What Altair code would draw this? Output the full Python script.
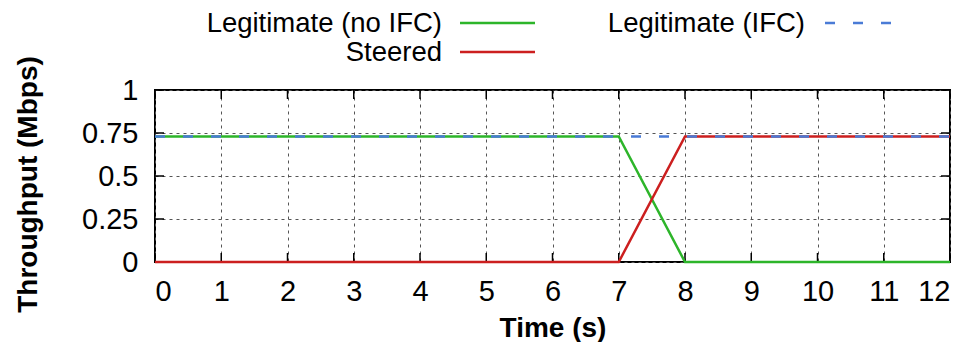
import altair as alt
import pandas as pd

# ---- data ----
time_s = [0, 1, 2, 3, 4, 5, 6, 7, 8, 9, 10, 11, 12]
legit_no_ifc = [0.73, 0.73, 0.73, 0.73, 0.73, 0.73, 0.73, 0.73, 0, 0, 0, 0, 0]
steered = [0, 0, 0, 0, 0, 0, 0, 0, 0.73, 0.73, 0.73, 0.73, 0.73]
legit_ifc = [0.73, 0.73, 0.73, 0.73, 0.73, 0.73, 0.73, 0.73, 0.73, 0.73, 0.73, 0.73, 0.73]

series_names = ["Legitimate (no IFC)", "Steered", "Legitimate (IFC)"]
series_colors = ["#2db52a", "#cc1f1f", "#4a7bd6"]

x_ticks = [0, 1, 2, 3, 4, 5, 6, 7, 8, 9, 10, 11, 12]
y_ticks = [0, 0.25, 0.5, 0.75, 1]

FONT = "Liberation Sans"
FS = 27.5
TFS = 28
LFS = 29
W, H = 795, 172

rows = []
for name, vals in zip(series_names, [legit_no_ifc, steered, legit_ifc]):
    for t, v in zip(time_s, vals):
        rows.append({"series": name, "time": t, "value": v})
df = pd.DataFrame(rows)

x_enc = alt.X(
    "time:Q",
    scale=alt.Scale(domain=[0, 12], nice=False, zero=False),
    axis=alt.Axis(
        values=x_ticks, format="d", title="Time (s)", grid=True,
        ticks=False, tickSize=0, domain=False, labelPadding=15,
        labelFontSize=LFS, titleFontSize=TFS, titleFontWeight="bold",
        titleX=W / 2, titleY=66, titleBaseline="middle", titleAlign="center",
    ),
)
y_enc = alt.Y(
    "value:Q",
    scale=alt.Scale(domain=[0, 1], nice=False),
    axis=alt.Axis(
        values=y_ticks, format=".2~f", title="Throughput (Mbps)", grid=True,
        ticks=False, tickSize=0, domain=False, labelPadding=17,
        labelFontSize=LFS, titleFontSize=TFS, titleFontWeight="bold",
        titleX=-127, titleY=94, titleBaseline="middle", titleAlign="center",
    ),
)

layers = []

# inward ticks (gnuplot style) on all four sides
xt = pd.DataFrame({"time": x_ticks})
yt = pd.DataFrame({"value": y_ticks})
layers.append(alt.Chart(xt).mark_rule(color="black", strokeWidth=1.5).encode(
    x=x_enc, y=alt.value(H - 9), y2=alt.value(H)))
layers.append(alt.Chart(xt).mark_rule(color="black", strokeWidth=1.5).encode(
    x=x_enc, y=alt.value(0), y2=alt.value(9)))
layers.append(alt.Chart(yt).mark_rule(color="black", strokeWidth=1.5).encode(
    y=y_enc, x=alt.value(0), x2=alt.value(9)))
layers.append(alt.Chart(yt).mark_rule(color="black", strokeWidth=1.5).encode(
    y=y_enc, x=alt.value(W - 9), x2=alt.value(W)))

# data lines: green, red, then blue dashed on top
for name, col in zip(series_names, series_colors):
    mk = dict(color=col, strokeWidth=2.5, clip=False)
    if name == "Legitimate (IFC)":
        mk["strokeDash"] = [10, 18]
    layers.append(
        alt.Chart(df).transform_filter(alt.datum.series == name)
        .mark_line(**mk).encode(x=x_enc, y=y_enc)
    )

# custom legend (label left of sample, gnuplot style)
leg = [
    (series_names[0], 287, 305, 380, -67, -66, series_colors[0], None),
    (series_names[1], 287, 305, 380, -38, -37, series_colors[1], None),
    (series_names[2], 650, 670, 736, -67, -66, series_colors[2], [10, 18]),
]
for label, tx, sx1, sx2, sy, ty, col, dash in leg:
    one = pd.DataFrame({"label": [label]})
    layers.append(alt.Chart(one).mark_text(
        align="right", baseline="middle", font=FONT, fontSize=FS, color="black"
    ).encode(text="label:N", x=alt.value(tx), y=alt.value(ty)))
    rk = dict(color=col, strokeWidth=2.5)
    if dash:
        rk["strokeDash"] = dash
    layers.append(alt.Chart(one).mark_rule(**rk).encode(
        x=alt.value(sx1), x2=alt.value(sx2), y=alt.value(sy)))

chart = alt.layer(*layers).properties(
    width=W, height=H,
    autosize=alt.AutoSizeParams(type="none"),
    padding={"left": 147, "top": 82, "right": 18, "bottom": 80},
).configure_view(
    stroke="black", strokeWidth=2
).configure_axis(
    labelFont=FONT, titleFont=FONT, labelColor="black", titleColor="black",
    gridColor="#555555", gridDash=[3, 4], gridWidth=1, gridOpacity=1,
)

chart.save("out.html", embed_options={"renderer": "svg", "actions": False})
